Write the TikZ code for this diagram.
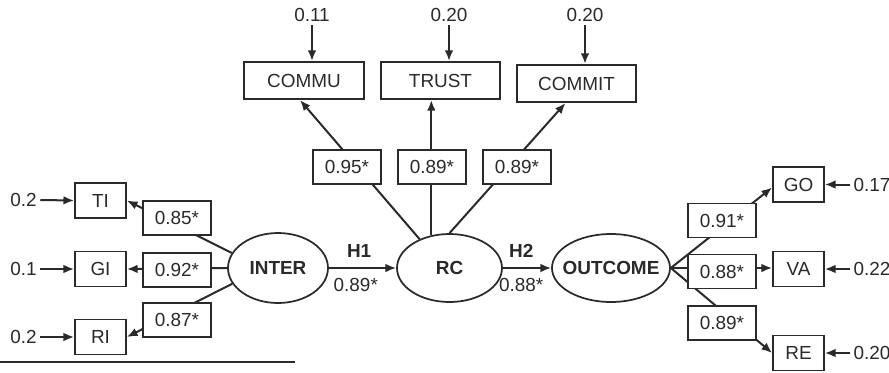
\documentclass[tikz,border=0pt]{standalone}
\usepackage{fontspec}
\setmainfont{Liberation Sans}
\usetikzlibrary{arrows.meta,calc,shapes.geometric}
\definecolor{ink}{HTML}{2A2A2A}
\pgfdeclarelayer{bg}
\pgfsetlayers{bg,main}
\begin{document}
\begin{tikzpicture}[x=0.75pt,y=-0.75pt,
  every node/.style={text=ink, font=\fontsize{14.2}{16}\selectfont, inner sep=0pt},
  ind/.style={draw=ink, line width=1.3pt, fill=white, minimum width=38.25pt, minimum height=26.25pt},
  wide/.style={ind, minimum width=89.5pt, minimum height=28pt},
  lbl/.style={ind, minimum width=51pt, minimum height=25.5pt},
  lat/.style={ellipse, draw=ink, line width=1.3pt, fill=white},
  lattext/.style={font=\fontsize{14.2}{16}\selectfont\bfseries},
  err/.style={inner sep=2.5pt},
  conn/.style={draw=ink, line width=1.5pt},
  arr/.style={conn, -{Latex[length=8pt,width=6.5pt]}}
]
\useasboundingbox (0,0) rectangle (889,372);

% left indicators
\node[ind] (TI) at (100.5,200.5) {TI};
\node[ind] (GI) at (100.5,269) {GI};
\node[ind] (RI) at (100.5,337) {RI};
\node[err] (eTI) at (23.5,200) {0.2};
\node[err] (eGI) at (23.5,269) {0.1};
\node[err] (eRI) at (23.5,337) {0.2};
\node[lbl] (l1) at (177,218) {0.85*};
\node[lbl] (l2) at (177,270) {0.92*};
\node[lbl] (l3) at (177,320) {0.87*};

% latent variables
\node[lat, minimum width=75pt, minimum height=52.5pt] (INTER) at (278,268) {};
\node[lattext] (INTERt) at (INTER) {INTER};
\node[lat, minimum width=78.75pt, minimum height=51pt] (RC) at (449.5,268) {};
\node[lattext] (RCt) at (RC) {RC};
\node[lat, minimum width=88.5pt, minimum height=51pt] (OUT) at (611,268) {};
\node[lattext] (OUTt) at (OUT) {OUTCOME};

% top indicators
\node[wide] (COMMU) at (304,80.5) {COMMU};
\node[wide] (TRUST) at (440.5,80.5) {TRUST};
\node[wide] (COMMIT) at (576.5,83.5) {COMMIT};
\node[err] (eCU) at (312,15) {0.11};
\node[err] (eTR) at (449,15) {0.20};
\node[err] (eCI) at (585,15) {0.20};
\node[lbl] (l4) at (347,167) {0.95*};
\node[lbl] (l5) at (432,167) {0.89*};
\node[lbl] (l6) at (517,167) {0.89*};

% right indicators
\node[ind] (GO) at (798.5,184.5) {GO};
\node[ind] (VA) at (798.5,269) {VA};
\node[ind] (RE) at (798.5,353) {RE};
\node[lbl] (l7) at (722,220.5) {0.91*};
\node[lbl] (l8) at (722,271.5) {0.88*};
\node[lbl] (l9) at (722,323) {0.89*};
\node[err, anchor=west] (eGO) at (850,184.5) {0.17};
\node[err, anchor=west] (eVA) at (850,269) {0.22};
\node[err, anchor=west] (eRE) at (850,353) {0.20};

\begin{pgfonlayer}{bg}
  % loadings
  \draw[arr] (INTER.162) -- (TI.east);
  \draw[arr] (INTER.west) -- (GI.east);
  \draw[arr] (INTER.199) -- (RI.east);
  \draw[arr] (RC.136.5) -- ($(COMMU.south)+(-4,0)$);
  \coordinate (rcTop) at (RC.119);
  \draw[arr] (rcTop) -- (rcTop |- TRUST.south);
  \draw[arr] (RC.north) -- ($(COMMIT.south)+(-11,0)$);
  \draw[arr] (OUT.east) -- ($(GO.west)+(0,3)$);
  \draw[arr] (OUT.east) -- (OUT.east -| VA.west);
  \draw[arr] (OUT.east) -- (RE.west);
\end{pgfonlayer}

% structural paths
\draw[arr] (INTER.east) -- node[pos=0.45, above=7pt, lattext] (H1) {H1}
                            node[pos=0.4, below=7pt] (H1v) {0.89*} (RC.west);
\draw[arr] (RC.east) -- node[pos=0.38, above=7pt, lattext] (H2) {H2}
                         node[pos=0.38, below=7pt] (H2v) {0.88*} (OUT.west);

% error terms
\draw[arr] (eTI.east) -- (TI.west);
\draw[arr] (eGI.east) -- (GI.west);
\draw[arr] (eRI.east) -- (RI.west);
\draw[arr] (eCU.south) -- (eCU.south |- COMMU.north);
\draw[arr] (eTR.south) -- (eTR.south |- TRUST.north);
\draw[arr] (eCI.south) -- (eCI.south |- COMMIT.north);
\draw[arr] (eGO.west) -- (eGO.west -| GO.east);
\draw[arr] (eVA.west) -- (eVA.west -| VA.east);
\draw[arr] (eRE.west) -- (eRE.west -| RE.east);

% rule at bottom left
\draw[conn] (0,362) -- (295,362);
\end{tikzpicture}
\end{document}
